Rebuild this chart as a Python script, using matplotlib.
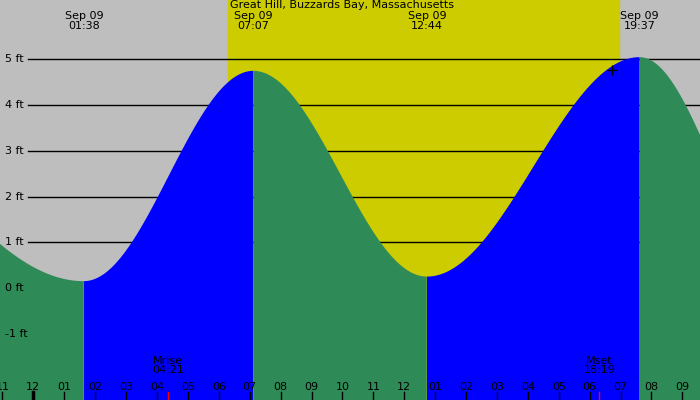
import numpy as np
import matplotlib
matplotlib.use("Agg")
import matplotlib.pyplot as plt

# tide extremes (hours from midnight Sep 09, feet); first/last are off-chart neighbours
ext_t = [-8.0, 1.633, 7.117, 12.733, 19.617, 24.4]
ext_h = [4.6, 0.15, 4.75, 0.25, 5.05, 0.3]
top_labels = [("Sep 09\n01:38", 1.633), ("Sep 09\n07:07", 7.117), ("Sep 09\n12:44", 12.733), ("Sep 09\n19:37", 19.617)]
sunrise, sunset = 6.3, 18.95
moon = [("Mrise\n04:21", 4.35), ("Mset\n18:19", 18.317)]
yticks = [-1, 0, 1, 2, 3, 4, 5]
hour_labels = ["11", "12", "01", "02", "03", "04", "05", "06", "07", "08", "09", "10", "11", "12",
               "01", "02", "03", "04", "05", "06", "07", "08", "09"]
hour_pos = list(range(-1, 22))

x0, x1, y0, y1 = -1.08, 21.57, -2.45, 6.3
fig = plt.figure(figsize=(7, 4), dpi=100)
ax = fig.add_axes([0, 0, 1, 1])
ax.set_xlim(x0, x1); ax.set_ylim(y0, y1); ax.axis("off")
ax.axvspan(x0, x1, color="#bebebe", zorder=0)
ax.axvspan(sunrise, sunset, color="#cccc00", zorder=0)
for y in yticks:
    if y > 0:
        ax.axhline(y, xmin=28/700, color="black", lw=1, zorder=1)
    ax.text(5/700, y, f"{y} ft", transform=ax.get_yaxis_transform(), va="center", ha="left", fontsize=8, zorder=5)

t = np.linspace(x0, x1, 3000)
h = np.zeros_like(t); rising = np.zeros_like(t, bool)
for i in range(len(ext_t) - 1):
    m = (t >= ext_t[i]) & (t <= ext_t[i + 1])
    f = (t[m] - ext_t[i]) / (ext_t[i + 1] - ext_t[i])
    h[m] = ext_h[i] + (ext_h[i + 1] - ext_h[i]) * (1 - np.cos(np.pi * f)) / 2
    rising[m] = ext_h[i + 1] > ext_h[i]
ax.fill_between(t, y0, h, where=rising, color="#0000ff", lw=0, zorder=2)
ax.fill_between(t, y0, h, where=~rising, color="#2e8b57", lw=0, zorder=2)

ax.text(sunrise + 0.05, 6.3, "Great Hill, Buzzards Bay, Massachusetts", ha="left", va="top", fontsize=8, zorder=5)
for s, x in top_labels:
    ax.text(x, 6.05, s, ha="center", va="top", fontsize=8, linespacing=0.95, zorder=5)
ax.plot([18.72], [4.76], marker="+", color="black", ms=7, zorder=5)
for s, x in moon:
    ax.text(x, -1.48, s, ha="center", va="top", fontsize=8, linespacing=0.95, zorder=5)
    ax.plot([x, x], [y0, y0 + 0.17], color="red", lw=1, zorder=5)
for lab, x in zip(hour_labels, hour_pos):
    ax.text(x, -2.17, lab, ha="center", va="center", fontsize=8, zorder=5)
    ax.plot([x, x], [y0, y0 + 0.17], color="black", lw=2.5 if x in (0, 24) else 1, zorder=5)
fig.savefig("out.png", dpi=100)
